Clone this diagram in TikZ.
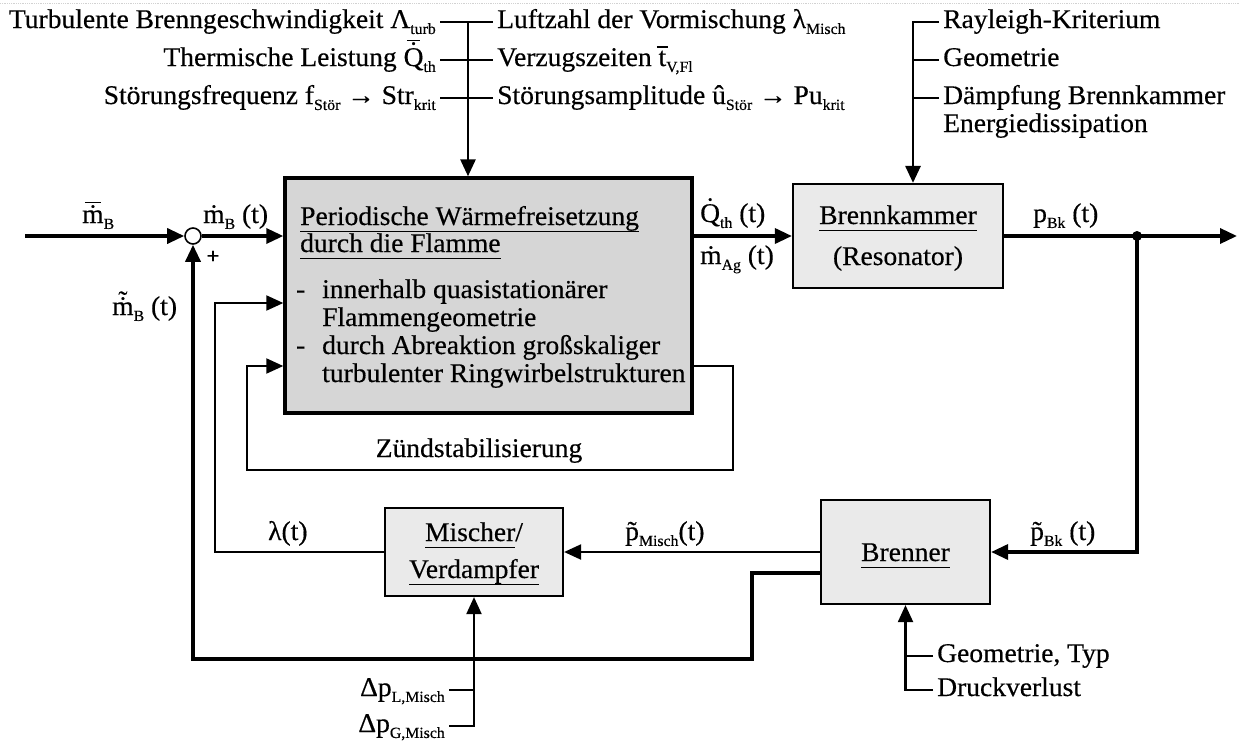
\documentclass[tikz,border=0pt]{standalone}
\usepackage{fontspec}
\setmainfont[FakeStretch=1.02,FakeBold=0.4]{Liberation Serif}
\usetikzlibrary{arrows.meta}

\definecolor{flammgrau}{RGB}{214,214,214}
\definecolor{blockgrau}{RGB}{234,234,234}

% Akzente uebereinander setzen
\newsavebox\akzbox
\newcommand\akz[3]{\sbox\akzbox{#3}%
  \makebox[\wd\akzbox][c]{\raisebox{#1}[0pt][0pt]{\makebox[0pt][c]{#2}}}%
  \llap{\usebox\akzbox}}
\newcommand\ind[1]{\raisebox{-0.22em}{\fontsize{15.5}{15.5}\selectfont #1}}
\newcommand\mdot{\akz{0pt}{\char"02D9}{m}}
\newcommand\mbar{\akz{0.74em}{\rule{0.6em}{1.3pt}}{\mdot}}
\newcommand\mtil{\akz{0.2em}{\char"02DC}{\mdot}}
\newcommand\Qdot{\akz{0.22em}{\char"02D9}{Q}}
\newcommand\Qbar{\akz{0.92em}{\rule{0.5em}{1.3pt}}{\Qdot}}
\newcommand\tbar{\akz{0.68em}{\rule{0.4em}{1.3pt}}{t}}
\newcommand\uhat{\akz{0pt}{\char"02C6}{u}}
\newcommand\ptil{\akz{0pt}{\char"02DC}{p}}
\newcommand\unter[1]{\leavevmode\vtop{\hbox{\vphantom{g}#1}\hrule height 1.5pt}}

\begin{document}
\begin{tikzpicture}[x=1pt,y=-1pt,
    font=\fontsize{27}{31}\selectfont,
    txt/.style={inner xsep=4pt,inner ysep=0pt,text height=19pt,text depth=7pt},
    lbl/.style={inner sep=0pt,anchor=base west},
    sig/.style={line width=3.4pt},
    zweig/.style={line width=2.8pt},
    duenn/.style={line width=2.1pt},
    pfeil/.style={-{Triangle[length=17pt,width=15pt]}},
    block/.style={draw,line width=2.2pt,fill=blockgrau,inner sep=0pt}]
\useasboundingbox (0,0) rectangle (1239,742);
% Rand oben
\draw[gray!35,densely dotted,line width=0.8pt] (0,3) -- (1239,3);

% Bloecke
\node[block,line width=3.4pt,fill=flammgrau,minimum width=407pt,minimum height=235pt] (flamme) at (488.5,295.5) {};
\node[block,minimum width=210pt,minimum height=104pt] (kammer) at (898,236) {};
\node[block,minimum width=169pt,minimum height=104pt] (brenner) at (905.5,552) {};
\node[block,minimum width=178pt,minimum height=88pt] (mischer) at (474,552) {};
% Summationsstelle
\node[circle,draw,line width=1.6pt,fill=white,minimum size=16pt,inner sep=0pt] (summe) at (193,236) {};

% Text Flammenblock
\node[lbl] (f1) at (300,225) {\unter{Periodische Wärmefreisetzung}};
\node[lbl] (f2) at (300,252) {\unter{durch die Flamme}};
\node[lbl] at (296,298) {-};
\node[lbl] (f3) at (322,298) {innerhalb quasistationärer};
\node[lbl] (f4) at (322,326) {Flammengeometrie};
\node[lbl] at (296,354) {-};
\node[lbl] (f5) at (322,354) {durch Abreaktion großskaliger};
\node[lbl] (f6) at (322,382) {turbulenter Ringwirbelstrukturen};
% Text Brennkammer, Brenner, Mischer
\node[inner sep=0pt,anchor=base] at (898,224) {\unter{Brennkammer}};
\node[inner sep=0pt,anchor=base] at (898,265) {(Resonator)};
\node[inner sep=0pt,anchor=base] at (905.5,561) {\unter{Brenner}};
\node[inner sep=0pt,anchor=base] at (474,541) {\unter{Mischer}/};
\node[inner sep=0pt,anchor=base] at (474,578) {\unter{Verdampfer}};

% Einfluesse oben
\node[txt,anchor=east] (turb) at (440,22) {Turbulente Brenngeschwindigkeit Λ\ind{turb}};
\node[txt,anchor=east] (leist) at (440,60) {Thermische Leistung \Qbar\ind{th}};
\node[txt,anchor=east] (freq) at (440,98) {Störungsfrequenz f\ind{Stör} → Str\ind{krit}};
\node[txt,anchor=west] (luft) at (493,22) {Luftzahl der Vormischung λ\ind{Misch}};
\node[txt,anchor=west] (verzug) at (493,60) {Verzugszeiten \tbar\ind{V,Fl}};
\node[txt,anchor=west] (ampl) at (493,98) {Störungsamplitude \uhat\ind{Stör} → Pu\ind{krit}};
\coordinate (oben) at (468,22);
\draw[zweig] (turb.east) -- (luft.west);
\draw[zweig] (leist.east) -- (verzug.west);
\draw[zweig] (freq.east) -- (ampl.west);
\draw[zweig,pfeil] (oben) -- (oben |- flamme.north);

% Einfluesse Brennkammer
\node[txt,anchor=west] (rayl) at (939,22) {Rayleigh-Kriterium};
\node[txt,anchor=west] (geom) at (939,60) {Geometrie};
\node[txt,anchor=west] (daempf) at (939,98) {Dämpfung Brennkammer};
\node[txt,anchor=west] (diss) at (939,126) {Energiedissipation};
\coordinate (roben) at (913,22);
\draw[zweig,pfeil] (rayl.west) -- (roben) -- (roben |- kammer.north);
\draw[zweig] (geom.west) -- (geom.west -| roben);
\draw[zweig] (daempf.west) -- (daempf.west -| roben);

% Signale
\node[lbl] (mquer) at (82,223) {\mbar\ind{B}};
\node[lbl] (mpunkt) at (203,223) {\mdot\ind{B} (t)};
\node[inner sep=0pt] (plus) at (213,257) {\fontsize{22}{22}\selectfont\textbf{+}};
\node[lbl] (mtilde) at (112,315) {\mtil\ind{B} (t)};
\node[lbl] (qth) at (700,222) {\Qdot\ind{th} (t)};
\node[lbl] (mag) at (700,264) {\mdot\ind{Ag} (t)};
\node[lbl] (pbk) at (1033,222) {p\ind{Bk} (t)};
\node[lbl] (lam) at (268,540) {λ(t)};
\node[lbl] (pmisch) at (625,540) {\ptil\ind{Misch}(t)};
\node[lbl] (pbkt) at (1030,540) {\ptil\ind{Bk} (t)};
\node[inner sep=0pt,anchor=base] (zuend) at (479,457) {Zündstabilisierung};

% Hauptpfad
\coordinate (ein) at (25,236);
\coordinate (abzw) at (1137,236);
\coordinate (aus) at (1237,236);
\draw[sig,pfeil] (ein) -- (summe);
\draw[sig,pfeil] (summe) -- (summe -| flamme.west);
\draw[sig,pfeil] (flamme.east |- kammer.west) -- (kammer.west);
\draw[sig,pfeil] (kammer.east) -- (aus);
\fill (abzw) circle (5pt);
\draw[sig,pfeil] (abzw) |- (brenner.east);
\draw[duenn,pfeil] (brenner.west) -- (mischer.east);

% Luftzahl
\coordinate (lk) at (215,303);
\draw[duenn,pfeil] (mischer.west) -| (lk) -- (lk -| flamme.west);

% Zuendstabilisierung
\coordinate (zh) at (0,366);
\coordinate (zr) at (733,470);
\coordinate (zl) at (247,470);
\draw[duenn,pfeil] (flamme.east |- zh) -| (zr) -- (zl) |- (flamme.west |- zh);

% Rueckfuehrung Brennstoff
\coordinate (rb) at (0,573);
\coordinate (rk) at (752,659);
\draw[sig,pfeil] (brenner.west |- rb) -| (rk) -| (summe.south);

% Einfluesse Mischer
\node[txt,anchor=east] (dpl) at (449,690) {Δp\ind{L,Misch}};
\node[txt,anchor=east] (dpg) at (449,726) {Δp\ind{G,Misch}};
\draw[duenn,pfeil] (dpg.east) -| (mischer.south);
\draw[duenn] (dpl.east) -- (dpl.east -| mischer.south);

% Einfluesse Brenner
\node[txt,anchor=west] (geotyp) at (933,656) {Geometrie, Typ};
\node[txt,anchor=west] (druck) at (933,690) {Druckverlust};
\draw[duenn,pfeil] (druck.west) -| (brenner.south);
\draw[duenn] (geotyp.west) -- (geotyp.west -| brenner.south);
\end{tikzpicture}
\end{document}
